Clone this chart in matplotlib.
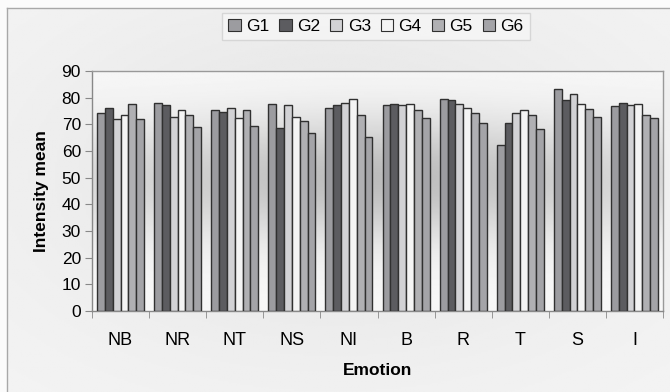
import numpy as np
import matplotlib
matplotlib.use("Agg")
import matplotlib.pyplot as plt
from matplotlib.patches import Patch

plt.rcParams['font.family'] = ['Liberation Sans', 'DejaVu Sans']

categories = ["NB", "NR", "NT", "NS", "NI", "B", "R", "T", "S", "I"]
groups = ["G1", "G2", "G3", "G4", "G5", "G6"]
G1 = [74.3, 78.1, 75.5, 77.8, 76.3, 77.1, 79.4, 62.2, 83.2, 76.8]
G2 = [76.0, 77.2, 74.7, 68.6, 77.2, 77.8, 79.1, 70.5, 79.1, 78.1]
G3 = [71.9, 72.9, 76.0, 77.3, 78.1, 77.2, 77.8, 74.3, 81.2, 77.3]
G4 = [73.4, 75.5, 72.5, 72.9, 79.4, 77.8, 76.3, 75.2, 77.8, 77.8]
G5 = [77.8, 73.4, 75.5, 71.2, 73.4, 75.2, 74.4, 73.4, 75.9, 73.4]
G6 = [72.0, 69.0, 69.4, 66.9, 65.1, 72.5, 70.4, 68.2, 72.9, 72.5]
series = [G1, G2, G3, G4, G5, G6]
colors = ["#9c9ca0", "#5c5c60", "#d2d2d5", "#f4f4f4", "#b0b0b3", "#a4a4a8"]

fig = plt.figure(figsize=(6.7, 3.92), dpi=100)

# figure background gradient
bg = fig.add_axes([0, 0, 1, 1], zorder=-10)
yy, xx = np.mgrid[-1:1:200j, -1:1:300j]
d = np.exp(-((xx / 0.9) ** 2) - ((yy + 0.1) / 0.9) ** 2)
bgimg = 0.955 - 0.06 * d
bg.imshow(bgimg, cmap="gray", vmin=0, vmax=1, aspect="auto", extent=[0, 1, 0, 1])
bg.set_xlim(0, 1); bg.set_ylim(0, 1)
bg.axis("off")
bg.fill_between([0, 1], 0.9796, 1, color="#fbfbfb", zorder=1)
bg.fill_between([0, 0.0104], 0, 1, color="#fbfbfb", zorder=1)
bg.plot([0.0104, 0.0104], [0, 0.9796], color="#a8a8a8", lw=1, zorder=2)
bg.plot([0.0104, 1], [0.9796, 0.9796], color="#a8a8a8", lw=1, zorder=2)

ax = fig.add_axes([0.1373, 0.2066, 0.8523, 0.6123])
ax.set_facecolor("none")

# plot area gradient
py, px = np.mgrid[-1:1:200j, -1:1:300j]
g = np.exp(-((py + 0.1) / 0.5) ** 2) * (0.45 + 0.55 * np.exp(-(px / 0.7) ** 2))
pimg = 0.97 - 0.23 * g
ax.imshow(pimg, cmap="gray", vmin=0, vmax=1, aspect="auto",
          extent=[-0.5, len(categories) - 0.5, 0, 90], zorder=0)

n = len(groups)
width = 0.137
x = np.arange(len(categories))
for i, (vals, c) in enumerate(zip(series, colors)):
    offs = (i - (n - 1) / 2) * width
    ax.bar(x + offs, vals, width, color=c, edgecolor="#303030", linewidth=1.0,
           zorder=3, label=groups[i])

ax.set_xlim(-0.5, len(categories) - 0.5)
ax.set_ylim(0, 90)
ax.set_yticks(np.arange(0, 91, 10))
ax.set_xticks(x)
ax.set_xticklabels(categories, fontsize=13)
ax.set_xticks(np.arange(-0.5, len(categories), 1), minor=True)
ax.tick_params(axis="x", which="major", length=0, pad=15)
ax.tick_params(axis="x", which="minor", length=5, color="#888888", direction="out")
ax.tick_params(axis="y", length=5, color="#888888", direction="out", labelsize=12.5, pad=3)
for s in ax.spines.values():
    s.set_color("#999999")
    s.set_linewidth(1.0)
ax.spines["left"].set_color("#888888")
ax.spines["bottom"].set_color("#888888")

ax.set_ylabel("Intensity mean", fontsize=12.5, fontweight="bold", labelpad=9)
ax.set_xlabel("Emotion", fontsize=12.5, fontweight="bold", labelpad=10)

handles = [Patch(facecolor=c, edgecolor="#303030", linewidth=0.8) for c in colors]
leg = fig.legend(handles, groups, loc="center", bbox_to_anchor=(376 / 670, 1 - 26.5 / 392),
                 ncol=6, fontsize=12.5, frameon=True, fancybox=False,
                 handlelength=0.7, handleheight=0.7, handletextpad=0.3,
                 columnspacing=0.6, borderpad=0.35)
leg.get_frame().set_edgecolor("#d0d0d0")
leg.get_frame().set_facecolor("#f6f6f6")
leg.get_frame().set_linewidth(1.0)

fig.savefig("out.png", dpi=100)
